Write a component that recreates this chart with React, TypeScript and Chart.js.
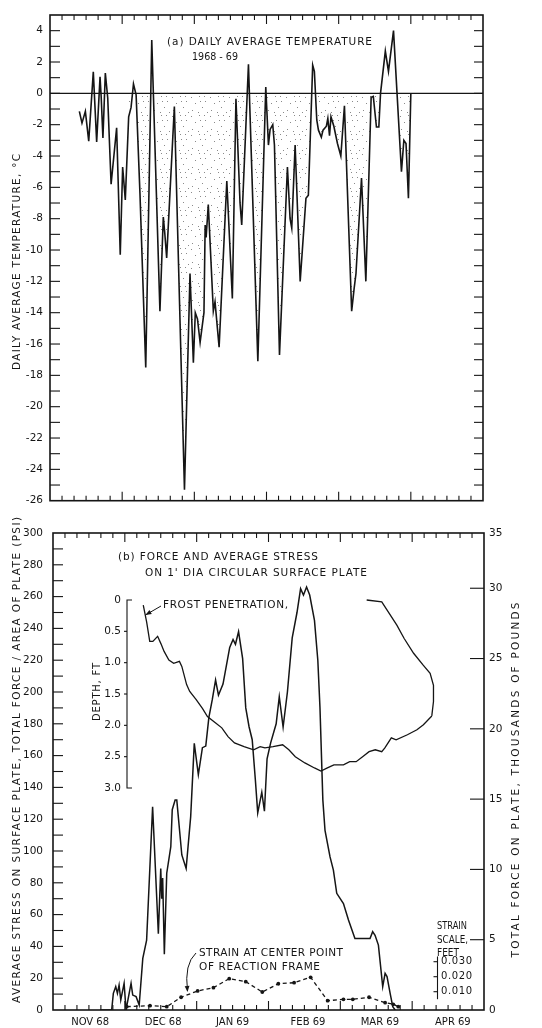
import React, { useEffect, useRef } from "react";
import { Chart, registerables } from "chart.js";

Chart.register(...registerables);

const FONT = '"DejaVu Sans", "Liberation Sans", sans-serif';
const INK = "#151515";

// ---------------- data (x in days from 1 Nov 1968, 30-day months on the drawn axis) -------------
const tempDays = [12.2, 13.3, 14.7, 16.1, 18.0, 19.4, 20.8, 21.3, 22.0, 23.0, 24.0, 25.4, 27.7, 29.2, 30.2, 31.3, 32.7, 33.7, 34.7, 35.8, 37.4, 39.8, 42.3, 45.7, 47.1, 47.7, 48.5, 51.7, 55.9, 58.2, 59.6, 60.4, 61.3, 62.4, 64.0, 64.5, 64.9, 65.8, 67.9, 68.6, 70.3, 73.5, 75.8, 77.3, 79.0, 79.7, 82.5, 86.4, 89.7, 90.8, 91.5, 92.6, 93.3, 95.4, 98.7, 99.8, 100.5, 101.9, 104.0, 106.4, 107.4, 109.2, 109.9, 110.9, 111.6, 112.8, 113.5, 114.9, 115.5, 116.2, 116.8, 118.0, 119.5, 120.9, 122.4, 125.4, 126.4, 127.2, 129.5, 131.3, 133.5, 134.4, 135.7, 136.7, 137.4, 139.4, 140.7, 142.8, 146.1, 147.1, 148.0, 149.0, 150.0];
const tempValues = [-1.15, -1.9, -1.15, -3.05, 1.37, -3.1, 1.05, -0.3, -2.85, 1.3, -0.3, -5.8, -2.2, -10.3, -4.7, -6.8, -1.5, -0.9, 0.6, -0.1, -6.4, -17.5, 3.4, -13.9, -7.9, -8.9, -10.5, -0.84, -25.3, -11.5, -17.2, -14.0, -14.4, -15.9, -14.0, -8.4, -9.2, -7.1, -13.9, -13.3, -16.2, -5.6, -13.1, -0.35, -7.0, -8.4, 1.85, -17.1, 0.4, -3.3, -2.3, -2.0, -3.3, -16.7, -4.7, -8.0, -8.6, -3.3, -12.0, -6.7, -6.5, 1.8, 1.4, -1.7, -2.35, -2.8, -2.35, -2.1, -1.6, -2.7, -1.5, -2.1, -3.2, -4.0, -0.8, -13.9, -12.5, -11.5, -5.4, -12.0, -0.25, -0.2, -2.15, -2.15, 0, 2.7, 1.4, 4.0, -5.0, -3.0, -3.2, -6.7, 0];
const stippleFrom = 16; // stippled area starts in early December

const forceDays = [19.6, 24.5, 25.2, 26.2, 26.9, 27.6, 28.3, 29.7, 30.5, 32.6, 33.3, 34.7, 36.0, 37.5, 39.1, 41.6, 44.0, 45.0, 45.4, 45.8, 46.5, 47.5, 49.2, 49.8, 51.0, 51.7, 53.8, 55.6, 57.5, 59.0, 60.7, 62.4, 63.8, 65.1, 66.5, 67.9, 69.1, 71.0, 73.8, 75.2, 76.2, 77.5, 79.2, 80.5, 81.9, 83.2, 84.5, 85.5, 87.2, 88.3, 89.4, 90.9, 93.2, 94.5, 96.1, 97.9, 99.9, 101.9, 103.4, 104.6, 105.9, 107.2, 109.2, 110.6, 111.5, 112.7, 113.6, 115.7, 117.1, 118.5, 121.3, 123.4, 126.1, 132.4, 133.5, 134.5, 135.9, 137.7, 138.7, 139.5, 140.8, 141.9, 142.9];
const forcePsi = [0, 0, 10.5, 14.7, 10.5, 15.7, 6.3, 16.8, 0, 16.8, 9.4, 8.4, 3.1, 32.5, 44, 127.8, 48, 89, 70, 83, 35, 86, 102.7, 126, 132, 132, 97.5, 89, 121.6, 167.7, 148, 165, 166, 184, 195, 207.5, 198, 205, 228, 233, 230, 238, 221, 190, 178, 170, 145, 124, 137, 125, 158, 168, 180, 197, 178, 200, 234, 250, 265, 261, 266, 261, 245, 220, 190, 132, 113, 96.3, 88, 73.4, 67, 56.6, 45, 45, 49.3, 47, 40.8, 14.7, 23, 21, 10.5, 2.1, 0];

const frostDays = [37.7, 39.1, 40.4, 41.7, 43.7, 45.1, 46.4, 48.4, 50.4, 52.8, 53.8, 55.8, 57.1, 59.8, 62.4, 64.5, 67.8, 70.5, 73.1, 75.8, 79.8, 83.8, 86.5, 88.5, 91.9, 95.9, 98.5, 101.2, 105.2, 109.2, 111.9, 114.6, 117.3, 121.3, 123.9, 126.6, 129.3, 132.0, 134.6, 137.3, 138.6, 141.3, 143.3, 148.0, 152.0, 154.7, 158.2];
const frostDepthFt = [0.08, 0.35, 0.66, 0.66, 0.58, 0.70, 0.82, 0.96, 1.01, 0.98, 1.06, 1.35, 1.46, 1.59, 1.73, 1.86, 1.96, 2.04, 2.18, 2.28, 2.34, 2.39, 2.34, 2.36, 2.34, 2.31, 2.39, 2.50, 2.60, 2.68, 2.73, 2.68, 2.63, 2.63, 2.58, 2.58, 2.50, 2.42, 2.39, 2.42, 2.36, 2.20, 2.23, 2.15, 2.07, 1.99, 1.85];
const thawDays = [131.0, 137.3, 143.6, 146.6, 150.6, 154.6, 157.5, 158.9, 158.9, 158.2];
const thawDepthFt = [0.0, 0.03, 0.4, 0.61, 0.85, 1.04, 1.17, 1.36, 1.62, 1.85];

const strainDays = [30.8, 40.5, 47.5, 53.5, 60.4, 67.0, 73.6, 80.5, 87.4, 94.1, 100.7, 107.6, 114.7, 121.3, 125.2, 132.0, 138.7, 142.1, 144.2];
const strainFeet = [0, 0.0007, 0, 0.0063, 0.0105, 0.0127, 0.0187, 0.0167, 0.0098, 0.0153, 0.016, 0.0196, 0.004, 0.0049, 0.0049, 0.0063, 0.0027, 0.0016, 0];

// ---------------- axis labels ----------------
const monthLabels = ["NOV 68", "DEC 68", "JAN 69", "FEB 69", "MAR 69", "APR 69"];
const monthLabelDays = [15.5, 46, 75, 106.5, 136.5, 167];
const tempAxisLabels = [4, 2, 0, -2, -4, -6, -8, -10, -12, -14, -16, -18, -20, -22, -24, -26];
const psiAxisLabels = [0, 20, 40, 60, 80, 100, 120, 140, 160, 180, 200, 220, 240, 260, 280, 300];
const kipsAxisLabels = [0, 5, 10, 15, 20, 25, 30];
const kipsTopLabel = "35";
const depthAxisLabels = ["0", "0.5", "1.0", "1.5", "2.0", "2.5", "3.0"];
const depthAxisValues = [0, 0.5, 1, 1.5, 2, 2.5, 3];
const strainAxisValues = [0.03, 0.02, 0.01];
const strainAxisLabels = ["0.030", "0.020", "0.010"];

const DAY_MAX = 180;
const DAY_TICK = 5;
const MONTH = 30;
const PLATE_AREA_IN2 = Math.PI * 6 * 6;
const KIPS_MAX = (300 * PLATE_AREA_IN2) / 1000;

const pts = (xs: number[], ys: number[]) => xs.map((x, i) => ({ x, y: ys[i] }));

function seg(ctx: CanvasRenderingContext2D, x1: number, y1: number, x2: number, y2: number) {
  ctx.beginPath();
  ctx.moveTo(x1, y1);
  ctx.lineTo(x2, y2);
  ctx.stroke();
}

function txt(
  ctx: CanvasRenderingContext2D,
  text: string,
  x: number,
  y: number,
  width: number,
  size = 10.5,
  rotate = false,
  align: "left" | "center" = "left"
) {
  ctx.save();
  ctx.font = `${size}px ${FONT}`;
  ctx.fillStyle = INK;
  ctx.textBaseline = "middle";
  ctx.textAlign = "left";
  (ctx as any).letterSpacing = "0px";
  const w = ctx.measureText(text).width;
  let sp = text.length > 1 ? (width - w) / (text.length - 1) : 0;
  let sx = 1;
  if (sp < 0) {
    sp = 0;
    sx = width / w;
  }
  (ctx as any).letterSpacing = `${sp}px`;
  ctx.translate(x, y);
  if (rotate) ctx.rotate(-Math.PI / 2);
  if (align === "center") ctx.translate(-width / 2, 0);
  ctx.scale(sx, 1);
  ctx.fillText(text, 0, 0);
  ctx.restore();
}

function arrowHead(ctx: CanvasRenderingContext2D, fx: number, fy: number, tx: number, ty: number) {
  const ang = Math.atan2(ty - fy, tx - fx);
  const L = 6, W = 2.4;
  ctx.beginPath();
  ctx.moveTo(tx, ty);
  ctx.lineTo(tx - L * Math.cos(ang) + W * Math.sin(ang), ty - L * Math.sin(ang) - W * Math.cos(ang));
  ctx.lineTo(tx - L * Math.cos(ang) - W * Math.sin(ang), ty - L * Math.sin(ang) + W * Math.cos(ang));
  ctx.closePath();
  ctx.fill();
}

function dayTicks(ctx: CanvasRenderingContext2D, x: any, a: any) {
  for (let d = DAY_TICK; d < DAY_MAX; d += DAY_TICK) {
    const px = x.getPixelForValue(d);
    const L = d % MONTH === 0 ? 9 : 5;
    seg(ctx, px, a.top, px, a.top + L);
    seg(ctx, px, a.bottom, px, a.bottom - L);
  }
}

function makeStipple(ctx: CanvasRenderingContext2D) {
  const c = document.createElement("canvas");
  c.width = 19;
  c.height = 19;
  const g = c.getContext("2d")!;
  g.fillStyle = "rgba(60,60,60,0.6)";
  const dots = [[1, 2], [9, 1], [15, 6], [5, 8], [12, 12], [2, 15], [17, 17], [8, 17], [14, 1], [10, 6]];
  dots.forEach(([dx, dy]) => g.fillRect(dx, dy, 1, 1));
  return ctx.createPattern(c, "repeat")!;
}

const tickFont = { family: FONT, size: 10.5 };

const topDeco = {
  id: "topDeco",
  afterDatasetsDraw(chart: any) {
    const { ctx, chartArea: a, scales } = chart;
    const x = scales.x, y = scales.y;
    ctx.save();
    ctx.strokeStyle = INK;
    ctx.lineWidth = 1.3;
    const y0 = y.getPixelForValue(0);
    seg(ctx, a.left, y0, a.right, y0);
    ctx.lineWidth = 1.1;
    dayTicks(ctx, x, a);
    for (let v = -25; v < 5; v++) {
      const py = y.getPixelForValue(v);
      seg(ctx, a.left, py, a.left + 10, py);
      seg(ctx, a.right, py, a.right - 9, py);
    }
    ctx.lineWidth = 1.6;
    ctx.strokeRect(a.left, a.top, a.right - a.left, a.bottom - a.top);
    ctx.restore();
  },
  afterDraw(chart: any) {
    const { ctx } = chart;
    txt(ctx, "(a) DAILY AVERAGE TEMPERATURE", 167, 42, 205);
    txt(ctx, "1968 - 69", 192, 57, 46);
    txt(ctx, "DAILY AVERAGE TEMPERATURE, °C", 17, 262, 216, 10.5, true, "center");
  },
};

const bottomDeco = {
  id: "bottomDeco",
  afterDatasetsDraw(chart: any) {
    const { ctx, chartArea: a, scales } = chart;
    const x = scales.x, y = scales.y, yr = scales.yr, yd = scales.yd, ys = scales.ys;
    ctx.save();
    ctx.strokeStyle = INK;
    ctx.fillStyle = INK;
    ctx.lineWidth = 1.1;
    dayTicks(ctx, x, a);
    for (let v = 10; v < 300; v += 10) {
      const py = y.getPixelForValue(v);
      seg(ctx, a.left, py, a.left + 10, py);
    }
    for (const k of kipsAxisLabels) {
      if (k === 0) continue;
      const py = yr.getPixelForValue(k);
      seg(ctx, a.right, py, a.right - 14, py);
    }
    // inset depth axis
    const dx = a.left + 74;
    const d0 = yd.getPixelForValue(0), d3 = yd.getPixelForValue(3);
    ctx.beginPath();
    ctx.moveTo(dx + 5, d0);
    ctx.lineTo(dx, d0);
    ctx.lineTo(dx, d3);
    ctx.lineTo(dx + 5, d3);
    ctx.stroke();
    depthAxisValues.forEach((v, i) => {
      const py = yd.getPixelForValue(v);
      if (i > 0 && i < depthAxisValues.length - 1) seg(ctx, dx - 3, py, dx, py);
      ctx.font = `10.5px ${FONT}`;
      ctx.textAlign = "right";
      ctx.textBaseline = "middle";
      ctx.fillText(depthAxisLabels[i], dx - 6, py);
    });
    // strain scale axis
    const sx = a.right - 46.5;
    seg(ctx, sx, ys.getPixelForValue(0.0335), sx, ys.getPixelForValue(0.005));
    strainAxisValues.forEach((v, i) => {
      const py = ys.getPixelForValue(v);
      seg(ctx, sx - 4, py, sx, py);
      txt(ctx, strainAxisLabels[i], sx + 3.5, py, 31, 10);
    });
    ctx.lineWidth = 1.6;
    ctx.strokeRect(a.left, a.top, a.right - a.left, a.bottom - a.top);
    ctx.restore();
  },
  afterDraw(chart: any) {
    const { ctx, scales } = chart;
    const x = scales.x, yd = scales.yd;
    txt(ctx, "(b) FORCE AND AVERAGE STRESS", 118, 45, 200);
    txt(ctx, "ON 1' DIA CIRCULAR SURFACE PLATE", 145, 61, 222);
    txt(ctx, "FROST PENETRATION,", 163, 93, 125);
    txt(ctx, "DEPTH, FT", 97, 180, 58, 10, true, "center");
    txt(ctx, "STRAIN AT CENTER POINT", 199, 441, 144, 10.5);
    txt(ctx, "OF REACTION FRAME", 199, 455, 121, 10.5);
    txt(ctx, "STRAIN", 437, 414, 30, 10);
    txt(ctx, "SCALE,", 437, 428, 31, 10);
    txt(ctx, "FEET", 437, 441, 22, 10);
    txt(ctx, "AVERAGE STRESS ON SURFACE PLATE, TOTAL FORCE / AREA OF PLATE (PSI)", 17, 248, 486, 10.5, true, "center");
    txt(ctx, "TOTAL FORCE ON PLATE, THOUSANDS OF POUNDS", 516, 268, 355, 10.5, true, "center");
    ctx.save();
    ctx.strokeStyle = INK;
    ctx.fillStyle = INK;
    ctx.lineWidth = 1;
    // frost arrow
    const tx = x.getPixelForValue(38.6), ty = yd.getPixelForValue(0.24);
    seg(ctx, 161, 94, tx, ty);
    arrowHead(ctx, 161, 94, tx, ty);
    // strain arrow
    ctx.beginPath();
    ctx.moveTo(196, 441);
    ctx.quadraticCurveTo(184, 452, 187.5, 479);
    ctx.stroke();
    arrowHead(ctx, 186.5, 465, 187.5, 480);
    ctx.restore();
  },
};

const base = {
  responsive: false,
  animation: false as const,
  events: [] as any[],
  plugins: { legend: { display: false }, tooltip: { enabled: false } },
};

export default function App() {
  const topRef = useRef<HTMLCanvasElement>(null);
  const botRef = useRef<HTMLCanvasElement>(null);

  useEffect(() => {
    const c1 = topRef.current!;
    const c2 = botRef.current!;
    const stipple = makeStipple(c1.getContext("2d")!);
    const tempPts = pts(tempDays, tempValues);

    const ch1 = new Chart(c1, {
      type: "line",
      data: {
        datasets: [
          { data: tempPts, borderColor: INK, borderWidth: 1.6, pointRadius: 0, fill: false, tension: 0 },
          {
            data: tempPts.slice(stippleFrom),
            borderColor: "rgba(0,0,0,0)",
            borderWidth: 0,
            pointRadius: 0,
            tension: 0,
            fill: { target: "origin", above: "rgba(0,0,0,0)", below: stipple },
          },
        ],
      },
      options: {
        ...base,
        layout: { padding: { left: 0, right: 59, top: 15, bottom: 4 } },
        scales: {
          x: { type: "linear", min: 0, max: DAY_MAX, display: false },
          y: {
            type: "linear",
            min: -26,
            max: 5,
            grid: { display: false, drawTicks: false },
            border: { display: false },
            afterBuildTicks: (s: any) => {
              s.ticks = tempAxisLabels.map((v) => ({ value: v }));
            },
            afterFit: (s: any) => {
              s.width = 50;
            },
            ticks: { font: tickFont, color: INK, padding: 7, autoSkip: false },
          },
        },
      },
      plugins: [topDeco],
    } as any);

    const ch2 = new Chart(c2, {
      type: "line",
      data: {
        datasets: [
          { data: pts(forceDays, forcePsi), yAxisID: "y", borderColor: INK, borderWidth: 1.5, pointRadius: 0, tension: 0 },
          { data: pts(frostDays, frostDepthFt), yAxisID: "yd", borderColor: INK, borderWidth: 1.3, pointRadius: 0, tension: 0 },
          { data: pts(thawDays, thawDepthFt), yAxisID: "yd", borderColor: INK, borderWidth: 1.3, pointRadius: 0, tension: 0 },
          {
            data: pts(strainDays, strainFeet),
            yAxisID: "ys",
            borderColor: INK,
            borderWidth: 1.3,
            borderDash: [4, 3],
            pointRadius: 1.9,
            pointBackgroundColor: INK,
            pointBorderWidth: 0,
            tension: 0,
          },
        ],
      },
      options: {
        ...base,
        layout: { padding: { left: 0, right: 0, top: 21, bottom: 0 } },
        scales: {
          x: {
            type: "linear",
            min: 0,
            max: DAY_MAX,
            grid: { display: false, drawTicks: false },
            border: { display: false },
            afterBuildTicks: (s: any) => {
              s.ticks = monthLabelDays.map((v) => ({ value: v }));
            },
            afterFit: (s: any) => {
              s.height = 18;
            },
            ticks: {
              font: { family: FONT, size: 10 },
              color: INK,
              padding: 6,
              autoSkip: false,
              maxRotation: 0,
              callback: (_v: any, i: number) => monthLabels[i],
            },
          },
          y: {
            type: "linear",
            position: "left",
            min: 0,
            max: 300,
            grid: { display: false, drawTicks: false },
            border: { display: false },
            afterBuildTicks: (s: any) => {
              s.ticks = psiAxisLabels.map((v) => ({ value: v }));
            },
            afterFit: (s: any) => {
              s.width = 53;
            },
            ticks: { font: tickFont, color: INK, padding: 10, autoSkip: false },
          },
          yr: {
            type: "linear",
            position: "right",
            min: 0,
            max: KIPS_MAX,
            grid: { display: false, drawTicks: false },
            border: { display: false },
            afterBuildTicks: (s: any) => {
              s.ticks = [...kipsAxisLabels.map((v) => ({ value: v })), { value: KIPS_MAX }];
            },
            afterFit: (s: any) => {
              s.width = 58;
            },
            ticks: {
              font: tickFont,
              color: INK,
              padding: 5,
              autoSkip: false,
              callback: (v: number) => (v > KIPS_MAX - 0.01 ? kipsTopLabel : String(v)),
            },
          },
          yd: { type: "linear", display: false, reverse: true, min: -1.069, max: 6.542 },
          ys: { type: "linear", display: false, min: -0.0022, max: 0.3158 },
        },
      },
      plugins: [bottomDeco],
    } as any);

    return () => {
      ch1.destroy();
      ch2.destroy();
    };
  }, []);

  return (
    <div style={{ position: "absolute", left: 0, top: 0, width: 542, height: 1028, background: "#fff", overflow: "hidden" }}>
      <canvas ref={topRef} width={542} height={514} style={{ position: "absolute", left: 0, top: 0, width: 542, height: 514 }} />
      <canvas ref={botRef} width={542} height={516} style={{ position: "absolute", left: 0, top: 512, width: 542, height: 516 }} />
    </div>
  );
}
